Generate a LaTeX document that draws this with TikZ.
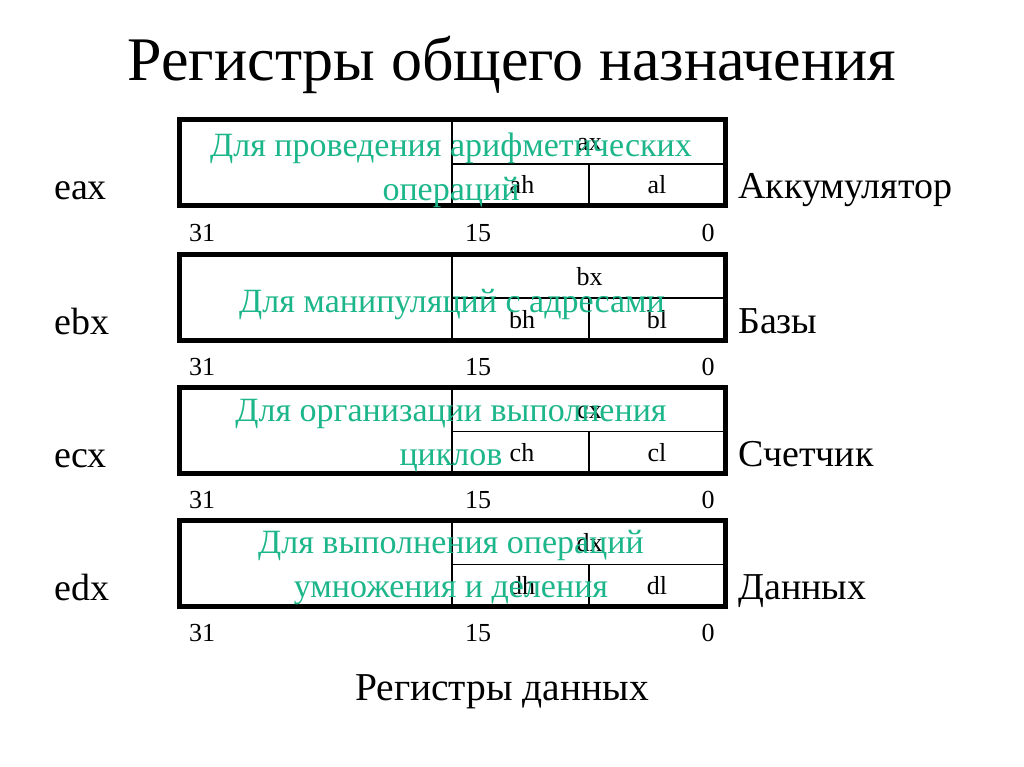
\documentclass[tikz,border=0pt]{standalone}
\usepackage{fontspec}
\setmainfont{Liberation Serif}
\definecolor{greentxt}{RGB}{28,182,138}
\begin{document}
\begin{tikzpicture}[x=1pt,y=-1pt,
  title/.style={font=\fontsize{62}{70}\selectfont, inner sep=0pt, anchor=base},
  reglabel/.style={font=\fontsize{38}{44}\selectfont, inner sep=0pt},
  bitlabel/.style={font=\fontsize{26}{30}\selectfont, inner sep=0pt, anchor=base},
  partlabel/.style={font=\fontsize{26}{30}\selectfont, inner sep=0pt, anchor=base},
  note/.style={font=\fontsize{34}{44}\selectfont, text=greentxt, inner sep=0pt, anchor=base},
  outer/.style={line width=5pt},
  inner/.style={line width=1.6pt}]
\useasboundingbox (0,0) rectangle (1024,767);
\node[title] (ttl) at (512,81) {Регистры общего назначения};
\foreach \y/\r/\nm in {120/a/Аккумулятор, 254/b/Базы, 387.5/c/Счетчик, 520.5/d/Данных}{
  \coordinate (tl\r) at (179,\y);
  \coordinate (br\r) at (725.5,\y+86);
  \draw[inner] (452,\y) -- (452,\y+86);
  \draw[inner] (452,\y+44) -- (725.5,\y+44);
  \draw[inner] (589,\y+44) -- (589,\y+86);
  \draw[outer] (tl\r) rectangle (br\r);
  \node[partlabel] (\r x) at (589.5,\y+31) {\r x};
  \node[partlabel] (\r h) at (522,\y+74) {\r h};
  \node[partlabel] (\r l) at (657,\y+74) {\r l};
  \node[reglabel, anchor=base west] (e\r x) at (54,\y+80) {e\r x};
  \node[reglabel, anchor=base west] (n\r) at (738,\y+79) {\nm};
  \node[bitlabel] (b31\r) at (202,\y+121) {31};
  \node[bitlabel] (b15\r) at (478,\y+121) {15};
  \node[bitlabel] (b0\r) at (708,\y+121) {0};
}
\node[note] (ga1) at (451,157) {Для проведения арифметических};
\node[note] (ga2) at (451,201) {операций};
\node[note] (gb) at (452,312) {Для манипуляций с адресами};
\node[note] (gc1) at (451,421) {Для организации выполнения};
\node[note] (gc2) at (451,465) {циклов};
\node[note] (gd1) at (451,553) {Для выполнения операций};
\node[note] (gd2) at (451,597) {умножения и деления};
\node[reglabel, font=\fontsize{39.5}{44}\selectfont, anchor=base] (bottom) at (502,700) {Регистры данных};
\end{tikzpicture}
\end{document}
